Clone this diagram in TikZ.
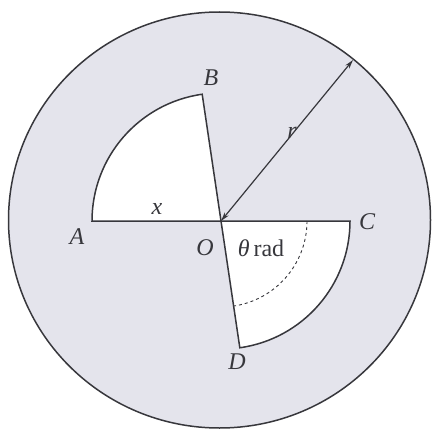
\documentclass[tikz,border=0pt]{standalone}
\usepackage{fontspec}
\setmainfont{Liberation Serif}
\usetikzlibrary{arrows.meta,calc}
\definecolor{bgfill}{RGB}{228,228,236}
\definecolor{inkc}{RGB}{55,55,60}
\begin{document}
\begin{tikzpicture}[x=1pt,y=1pt,
  line width=1.5pt,
  edge/.style={draw=inkc, line width=1.5pt},
  lbl/.style={font=\fontsize{24}{28}\selectfont\itshape, text=inkc, inner sep=0pt},
  rlbl/.style={font=\fontsize{24}{28}\selectfont, text=inkc, inner sep=0pt}]
\useasboundingbox (0,0) rectangle (433,429);
\coordinate (Z) at (219.5,209);
\coordinate (O) at (221,208);
\coordinate (A) at (92,208);
\coordinate (C) at (350,208);
\coordinate (B) at ($(O)+(98:128)$);
\coordinate (D) at ($(O)+(-82:128)$);
\coordinate (R) at (353,369);
% outer disc
\draw[edge, fill=bgfill] (Z) ellipse [x radius=211pt, y radius=208pt];
% white sectors
\draw[edge, fill=white, line join=miter] (O) -- (A) arc[start angle=180, end angle=98, radius=128pt] -- cycle;
\draw[edge, fill=white, line join=miter] (O) -- (C) arc[start angle=0, end angle=-82, radius=128pt] -- cycle;
% dashed angle arc
\draw[draw=inkc, line width=0.9pt, dashed] ($(O)+(86,0)$) arc[start angle=0, end angle=-82, radius=86pt];
% radius arrow
\draw[edge, line width=1.2pt, {Stealth[length=9pt,width=5pt]}-{Stealth[length=9pt,width=5pt]}] (O) -- (R);
% labels
\node[lbl] (lA) at (77,192) {A};
\node[lbl] (lB) at (211,351) {B};
\node[lbl] (lC) at (367,207) {C};
\node[lbl] (lO) at (205,181) {O};
\node[lbl] (lD) at (237,67) {D};
\node[lbl] (lx) at (157,220) {x};
\node[lbl] (lr) at (292,296) {r};
\node[rlbl] (lth) at (261,181) {\textit{θ}\,rad};
\end{tikzpicture}
\end{document}
